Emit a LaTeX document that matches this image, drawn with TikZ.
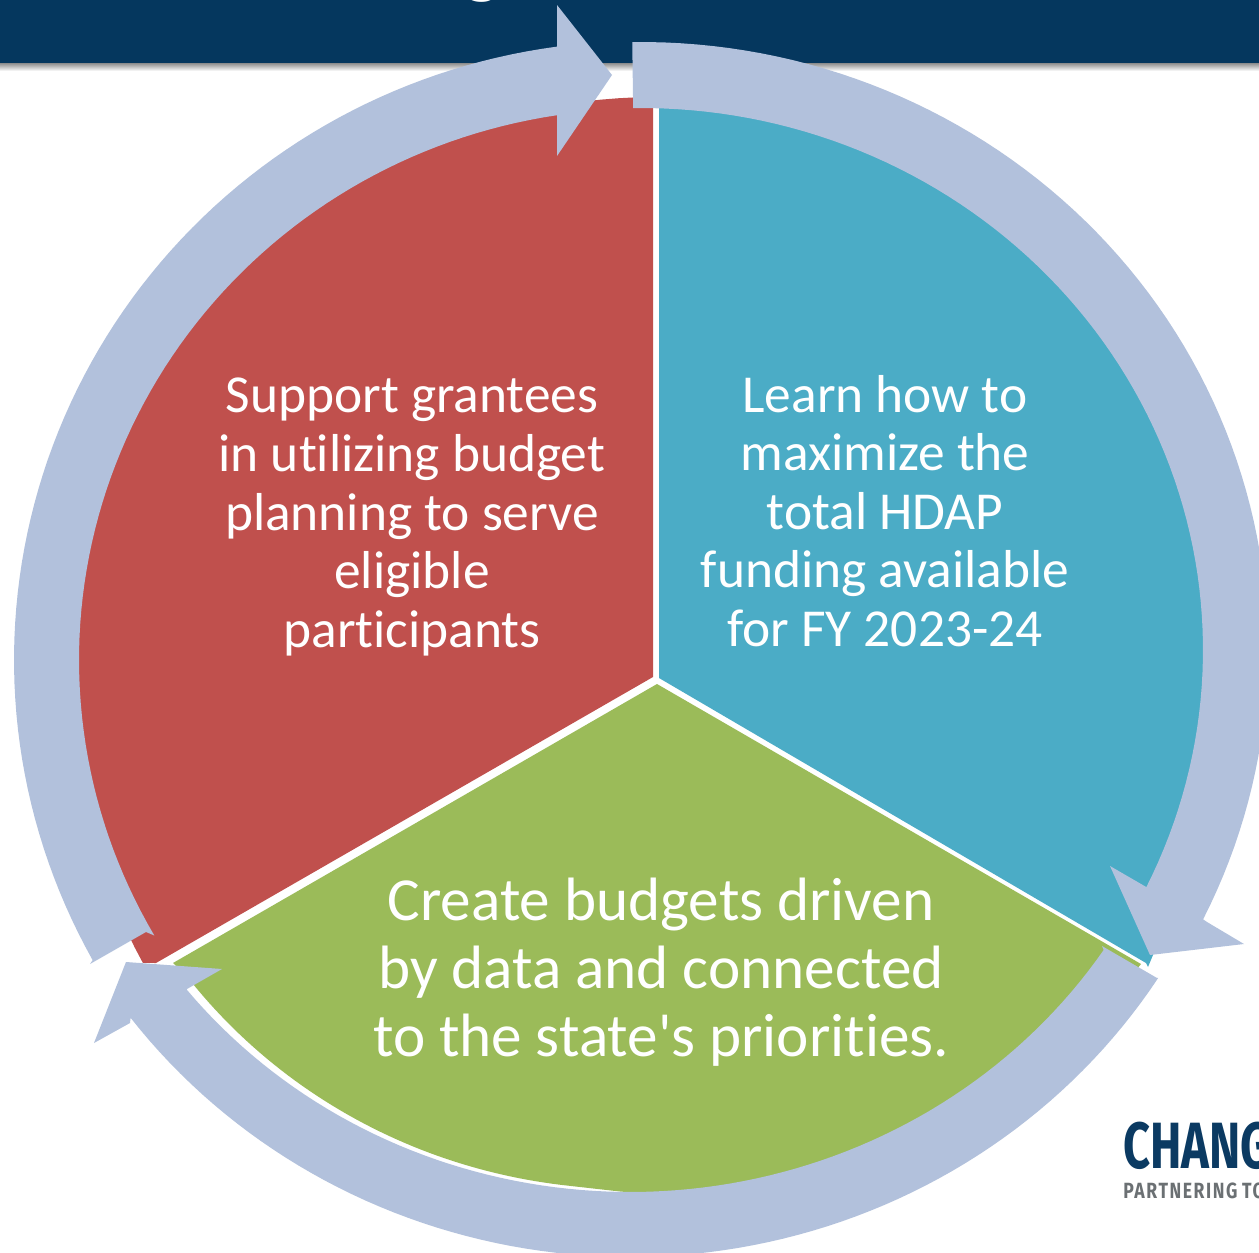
\documentclass[tikz,border=0pt]{standalone}
\usepackage{fontspec}
\setmainfont{Carlito}
\newfontfamily\labelfont[Ligatures=NoCommon]{Carlito}
\newfontfamily\logofont{Fira Sans}
\newfontfamily\logospaced[LetterSpace=9]{Fira Sans}
\definecolor{ringblue}{HTML}{B2C1DC}
\definecolor{headnavy}{HTML}{05375E}
\definecolor{piered}{HTML}{C0504D}
\definecolor{pieteal}{HTML}{4BACC6}
\definecolor{piegreen}{HTML}{9BBB59}
\definecolor{logonavy}{HTML}{0B3A62}
\definecolor{loggrey}{HTML}{6B7073}
\tikzset{
  ringseg/.style={fill=ringblue,draw=none},
  sector/.style={draw=none},
  redtext/.style={text=white,align=center,font=\labelfont\fontsize{26.7pt}{29.3pt}\selectfont,inner sep=0pt},
  greentext/.style={text=white,align=center,font=\labelfont\fontsize{30.6pt}{34pt}\selectfont,inner sep=0pt},
}
\begin{document}
\begin{tikzpicture}[x=0.5pt,y=-0.5pt]
\useasboundingbox (0,0) rectangle (1259,1253);
\fill[white] (0,0) rectangle (1259,1253);
% header band and its shadow
\shade[top color=black!45,bottom color=white] (0,63) rectangle (1259,71);
\fill[headnavy] (0,0) rectangle (1259,63);
\begin{scope}
\clip (0,0) rectangle (1259,1253);
\node[anchor=south,inner sep=0pt,text=white,font=\fontsize{38pt}{40pt}\selectfont\bfseries] (titlefrag) at (483,3) {g};
\end{scope}
% pie sectors
\fill[piered,sector] (653,677) -- (653,100) -- plot[domain=268:151.3,samples=70] ({656+585*cos(\x)},{682+585*sin(\x)}) -- (156,963) -- cycle;
\fill[pieteal,sector] (659,678) -- (659,100) -- plot[domain=272:388,samples=70] ({641+590*cos(\x)},{650+575*sin(\x)}) -- (1153,955) -- (1148,967) -- (1146,963) -- cycle;
\fill[piegreen,sector] (657,684) -- (1141,964) -- (1137,969) -- (1100,1020) -- (950,1130) -- (800,1175) -- (725,1192) -- (650,1194) -- (620,1191.5) -- plot[domain=97:143,samples=50] ({630+556*cos(\x)},{652+537*sin(\x)}) -- (173,963) -- cycle;
% ring arrows
\fill[ringseg] plot[domain=151:262.3,samples=80] ({641+627*cos(\x)},{660+619*sin(\x)}) -- (557,47) -- (557,5) -- (612,75) -- (557,156) -- (557,113) -- plot[domain=261.4:150,samples=80] ({641+562*cos(\x)},{660+551*sin(\x)}) -- (146,932) -- (90,964) -- cycle;
\fill[ringseg] plot[domain=269.2:386.3,samples=80] ({641+627*cos(\x)},{650+608*sin(\x)}) -- (1207,922) -- (1244,944) -- (1150,955) -- (1110,866) -- (1148,888) -- plot[domain=386:269.2,samples=80] ({641+562*cos(\x)},{650+542*sin(\x)}) -- cycle;
\fill[ringseg] plot[domain=32.6:142.8,samples=80] ({630+627*cos(\x)},{652+605*sin(\x)}) -- (130,1023) -- (94,1043) -- (126,962) -- (222,969) -- (187,989) -- plot[domain=141.3:33.5,samples=80] ({630+568*cos(\x)},{652+540*sin(\x)}) -- (1102,946) -- (1157,978) -- cycle;
% labels
\node[redtext] (redlabel) at (412,517) {Support grantees\\in utilizing budget\\planning to serve\\eligible\\participants};
\node[redtext] (teallabel) at (885,511) {Learn how to\\maximize the\\total HDAP\\funding available\\for FY 2023-24};
\node[greentext] (greenlabel) at (661,972) {Create budgets driven\\by data and connected\\to the state's priorities.};
% logo, cut by the picture edge
\begin{scope}
\clip (0,0) rectangle (1259,1253);
\node[anchor=base west,inner sep=0pt,text=logonavy,font=\logofont\fontsize{32.7pt}{34pt}\selectfont\bfseries] (logomain) at (1123,1168) {\scalebox{.72}[1]{CHANGE}};
\node[anchor=base west,inner sep=0pt,text=loggrey,font=\logospaced\fontsize{11pt}{12pt}\selectfont\bfseries] (logosub) at (1123,1198) {\scalebox{.8}[1]{PARTNERING\hspace{-.06em} TO}};
\end{scope}
\end{tikzpicture}
\end{document}
